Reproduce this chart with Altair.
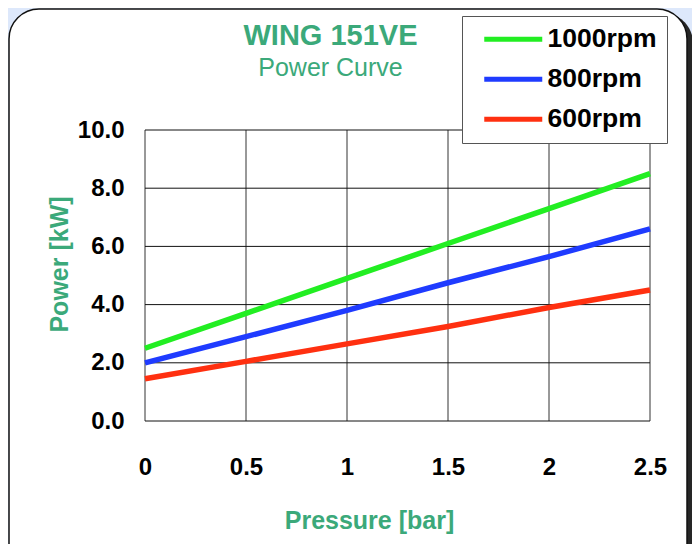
import altair as alt
import pandas as pd

pressure = [0, 0.5, 1, 1.5, 2, 2.5]
rpm_1000 = [2.5, 3.7, 4.9, 6.1, 7.3, 8.5]
rpm_800 = [2.0, 2.9, 3.8, 4.75, 5.65, 6.6]
rpm_600 = [1.45, 2.05, 2.65, 3.25, 3.9, 4.5]
series_names = ["1000rpm", "800rpm", "600rpm"]
series_colors = ["#22ee22", "#1f3bff", "#ff3010"]
x_ticks = [0, 0.5, 1, 1.5, 2, 2.5]
y_ticks = [0, 2, 4, 6, 8, 10]

FONT = "Liberation Sans"
GREEN = "#3ba97a"

rows = []
for name, vals in zip(series_names, [rpm_1000, rpm_800, rpm_600]):
    for p, v in zip(pressure, vals):
        rows.append({"Pressure": p, "Power": v, "Series": name})
df = pd.DataFrame(rows)

W, H = 505, 291
xscale = alt.Scale(domain=[0, 2.5], nice=False, zero=False)
yscale = alt.Scale(domain=[0, 10], nice=False)

xaxis = alt.Axis(values=x_ticks, title="Pressure [bar]", grid=False, domain=False, ticks=False,
                 labelFont=FONT, labelFontSize=24, labelFontWeight="bold", labelColor="black",
                 labelPadding=34, labelExpr="format(datum.value, '')",
                 labelFlush=False,
                 titleFont=FONT, titleFontSize=25, titleFontWeight="bold", titleColor=GREEN,
                 titleX=224, titleY=107, titleBaseline="alphabetic", titleAlign="center",
                 zindex=1)
yaxis = alt.Axis(values=y_ticks, title="Power [kW]", grid=False, domain=False, ticks=False,
                 format=".1f", labelFont=FONT, labelFontSize=24, labelFontWeight="bold",
                 labelColor="black", labelPadding=21, labelFlush=False,
                 titleFont=FONT, titleFontSize=25, titleFontWeight="bold", titleColor=GREEN,
                 titleAngle=270, titleX=-86, titleY=134, titleBaseline="middle", titleAlign="center",
                 zindex=1)

one = pd.DataFrame({"k": [0]})
shadow = alt.Chart(one).mark_rect(fill="#262626", cornerRadius=30).encode(
    x=alt.value(-130), x2=alt.value(548), y=alt.value(-117), y2=alt.value(460)
)
panel = alt.Chart(one).mark_rect(fill="white", stroke="#111111", strokeWidth=1.5, cornerRadius=30).encode(
    x=alt.value(-136), x2=alt.value(542), y=alt.value(-121), y2=alt.value(460)
)

vgrid = alt.Chart(pd.DataFrame({"Pressure": x_ticks})).mark_rule(color="#333333", strokeWidth=1).encode(
    x=alt.X("Pressure:Q", scale=xscale, axis=xaxis)
)
hgrid = alt.Chart(pd.DataFrame({"Power": y_ticks})).mark_rule(color="#111111", strokeWidth=1).encode(
    y=alt.Y("Power:Q", scale=yscale, axis=yaxis)
)

lines = alt.Chart(df).mark_line(strokeWidth=5.5, clip=False).encode(
    x=alt.X("Pressure:Q", scale=xscale, axis=xaxis),
    y=alt.Y("Power:Q", scale=yscale, axis=yaxis),
    color=alt.Color("Series:N", sort=series_names,
                    scale=alt.Scale(domain=series_names, range=series_colors),
                    legend=alt.Legend(title=None, orient="none", legendX=317, legendY=-114,
                                      symbolType="M-0.1,0H5.7", symbolSize=400, symbolStrokeWidth=5,
                                      labelFont=FONT, labelFontSize=26.5, labelFontWeight="bold",
                                      labelColor="black", labelOffset=49, rowPadding=13,
                                      padding=10, fillColor="white", strokeColor="#555555",
                                      labelLimit=300)),
)

chart = alt.layer(shadow, panel, vgrid, hgrid, lines).properties(
    width=W, height=H,
    title=alt.TitleParams(text="WING 151VE", subtitle="Power Curve", anchor="middle", dx=-67,
                          font=FONT, fontSize=29, fontWeight="bold", color=GREEN,
                          subtitleFont=FONT, subtitleFontSize=25, subtitleFontWeight="normal",
                          subtitleColor=GREEN, subtitlePadding=5, offset=0, dy=73),
    autosize=alt.AutoSizeParams(type="none"),
    padding={"left": 137, "top": 122, "right": 42, "bottom": 123},
    background="#dde8fb",
).configure_view(stroke=None)

chart.save("out.html", embed_options={"renderer": "svg", "actions": False})
